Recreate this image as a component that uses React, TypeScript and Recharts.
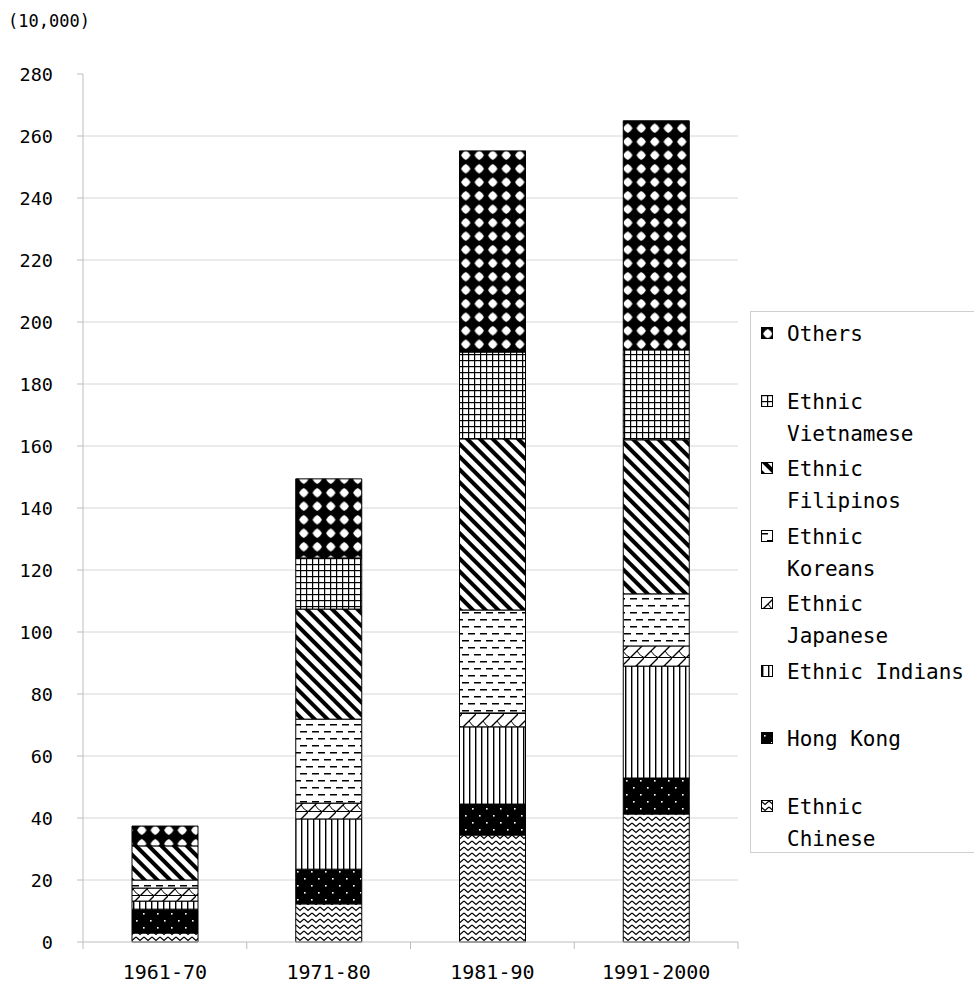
import { Bar, BarChart, CartesianGrid, Legend, XAxis, YAxis } from 'recharts';

// Arrivals by decade, in units of 10,000
const periods = ['1961-70', '1971-80', '1981-90', '1991-2000'];
const ethnicChinese = [2.9, 12.3, 34.5, 41.3];
const hongKong = [7.7, 11.2, 10.0, 11.6];
const ethnicIndians = [2.6, 16.2, 24.9, 36.1];
const ethnicJapanese = [4.2, 5.1, 4.5, 6.5];
const ethnicKoreans = [2.6, 27.1, 33.2, 16.8];
const ethnicFilipinos = [11.0, 35.5, 55.2, 49.7];
const ethnicVietnamese = [0, 16.5, 28.0, 29.0];
const others = [6.4, 25.5, 64.9, 73.9];

const yTicks = [0, 20, 40, 60, 80, 100, 120, 140, 160, 180, 200, 220, 240, 260, 280];
const gridValues = yTicks.filter((v) => v > 0 && v < 280);

const series = [
  { key: 'chinese', name: 'Ethnic\nChinese', pattern: 'pat-chinese', values: ethnicChinese },
  { key: 'hongkong', name: 'Hong Kong', pattern: 'pat-hongkong', values: hongKong },
  { key: 'indians', name: 'Ethnic Indians', pattern: 'pat-indians', values: ethnicIndians },
  { key: 'japanese', name: 'Ethnic\nJapanese', pattern: 'pat-japanese', values: ethnicJapanese },
  { key: 'koreans', name: 'Ethnic\nKoreans', pattern: 'pat-koreans', values: ethnicKoreans },
  { key: 'filipinos', name: 'Ethnic\nFilipinos', pattern: 'pat-filipinos', values: ethnicFilipinos },
  { key: 'vietnamese', name: 'Ethnic\nVietnamese', pattern: 'pat-vietnamese', values: ethnicVietnamese },
  { key: 'others', name: 'Others', pattern: 'pat-others', values: others },
];

const data = periods.map((period, i) => {
  const row: Record<string, string | number> = { period };
  series.forEach((s) => {
    row[s.key] = s.values[i];
  });
  return row;
});

const FONT = '"DejaVu Sans Mono", monospace';
const AXIS_GRAY = '#bdbdbd';
const GRID_GRAY = '#d6d6d6';

const Patterns = () => (
  <defs>
    <pattern id="pat-chinese" width={8} height={6} patternUnits="userSpaceOnUse">
      <rect width={8} height={6} fill="#fff" />
      <path d="M0,1 L4,4.5 L8,1" fill="none" stroke="#000" strokeWidth={1.2} />
    </pattern>
    <pattern id="pat-hongkong" width={14} height={14} patternUnits="userSpaceOnUse">
      <rect width={14} height={14} fill="#000" />
      <rect x={3} y={3} width={1.6} height={1.6} fill="#fff" />
      <rect x={10} y={10} width={1.6} height={1.6} fill="#fff" />
    </pattern>
    <pattern id="pat-indians" width={6} height={6} patternUnits="userSpaceOnUse">
      <rect width={6} height={6} fill="#fff" />
      <rect x={1} y={0} width={1.4} height={6} fill="#000" />
    </pattern>
    <pattern id="pat-japanese" width={14} height={14} patternUnits="userSpaceOnUse">
      <rect width={14} height={14} fill="#fff" />
      <path d="M0,13.5 H14" stroke="#000" strokeWidth={1} />
      <path d="M0,14 L14,0" stroke="#000" strokeWidth={1.3} />
      <path d="M7,7 Q10,12 14,13.5" fill="none" stroke="#000" strokeWidth={1} />
    </pattern>
    <pattern id="pat-koreans" width={12} height={14} patternUnits="userSpaceOnUse">
      <rect width={12} height={14} fill="#fff" />
      <rect x={0} y={3} width={7} height={1.5} fill="#000" />
      <rect x={6} y={10} width={6} height={1.5} fill="#000" />
      <rect x={0} y={10} width={1} height={1.5} fill="#000" />
    </pattern>
    <pattern
      id="pat-filipinos"
      width={9}
      height={9}
      patternUnits="userSpaceOnUse"
      patternTransform="rotate(-45)"
    >
      <rect width={9} height={9} fill="#fff" />
      <rect x={0} y={0} width={4} height={9} fill="#000" />
    </pattern>
    <pattern id="pat-vietnamese" width={6} height={6} patternUnits="userSpaceOnUse">
      <rect width={6} height={6} fill="#fff" />
      <rect x={0} y={0} width={6} height={1.2} fill="#000" />
      <rect x={0} y={0} width={1.2} height={6} fill="#000" />
    </pattern>
    <pattern id="pat-others" width={13.5} height={13.5} patternUnits="userSpaceOnUse">
      <rect width={13.5} height={13.5} fill="#000" />
      <path
        d="M2,6.75 Q3.6,3.6 6.75,2 Q9.9,3.6 11.5,6.75 Q9.9,9.9 6.75,11.5 Q3.6,9.9 2,6.75 Z"
        fill="#fff"
      />
    </pattern>
  </defs>
);

const PeriodTick = (props: any) => {
  const { x, y, payload, index, visibleTicksCount, width } = props;
  const band = width && visibleTicksCount ? width / visibleTicksCount : 163.75;
  const left = x - band / 2;
  return (
    <g>
      <line x1={left} x2={left} y1={y} y2={y + 7} stroke={AXIS_GRAY} />
      {index === visibleTicksCount - 1 && (
        <line x1={left + band} x2={left + band} y1={y} y2={y + 7} stroke={AXIS_GRAY} />
      )}
      <text x={x} y={y + 37} textAnchor="middle" fontFamily={FONT} fontSize={20} fill="#000">
        {payload.value}
      </text>
    </g>
  );
};

const renderLegend = () => (
  <div
    style={{
      border: '1px solid #cfcfcf',
      background: '#fff',
      width: 240,
      height: 542,
      boxSizing: 'border-box',
      paddingTop: 6,
      fontFamily: FONT,
      fontSize: 21,
      color: '#000',
    }}
  >
    {[...series].reverse().map((s) => (
      <div key={s.key} style={{ height: 67.5, display: 'flex', alignItems: 'flex-start' }}>
        <svg width={12} height={12} style={{ marginLeft: 10, marginTop: 9, flex: 'none' }}>
          <rect x={0.5} y={0.5} width={11} height={11} fill={`url(#${s.pattern})`} stroke="#000" />
        </svg>
        <div style={{ marginLeft: 14, lineHeight: '32px', whiteSpace: 'pre' }}>{s.name}</div>
      </div>
    ))}
  </div>
);

export default function App() {
  return (
    <div style={{ width: 974, height: 984, overflow: 'hidden', background: '#fff' }}>
      <style>{'html,body{margin:0;overflow:hidden;background:#fff}'}</style>
      <BarChart
        width={974}
        height={984}
        data={data}
        margin={{ top: 74, right: 236, bottom: 12, left: 0 }}
        barSize={66}
      >
        <Patterns />
        <text x={8} y={27} fontFamily={FONT} fontSize={17} fill="#000">
          (10,000)
        </text>
        <CartesianGrid
          vertical={false}
          horizontalValues={gridValues}
          stroke={GRID_GRAY}
          strokeDasharray=""
        />
        <XAxis
          dataKey="period"
          height={30}
          axisLine={{ stroke: AXIS_GRAY }}
          tickLine={false}
          tickSize={0}
          tickMargin={0}
          interval={0}
          tick={<PeriodTick />}
        />
        <YAxis
          width={83}
          domain={[0, 280]}
          ticks={yTicks}
          interval={0}
          axisLine={{ stroke: AXIS_GRAY }}
          tickLine={{ stroke: AXIS_GRAY }}
          tickSize={6}
          tickMargin={24}
          tick={{ fill: '#000', fontSize: 18.5, fontFamily: FONT }}
        />
        <Legend
          layout="vertical"
          align="center"
          verticalAlign="middle"
          content={renderLegend}
          wrapperStyle={{ left: 750, top: 311, width: 240 }}
        />
        {series.map((s) => (
          <Bar
            key={s.key}
            dataKey={s.key}
            name={s.name}
            stackId="total"
            fill={`url(#${s.pattern})`}
            stroke="#000"
            strokeWidth={1}
            isAnimationActive={false}
          />
        ))}
      </BarChart>
    </div>
  );
}
